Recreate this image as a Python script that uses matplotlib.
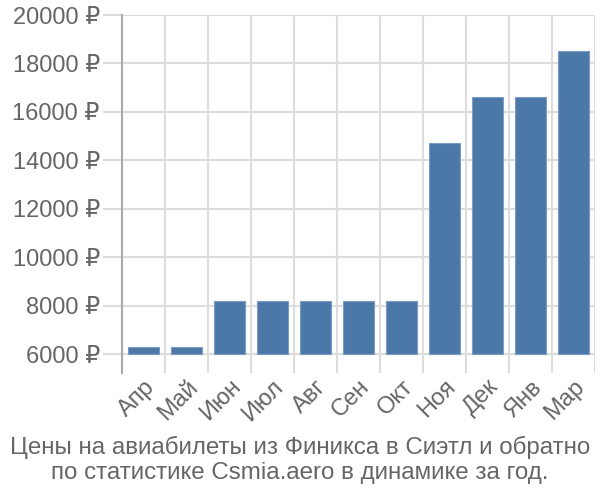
import matplotlib
matplotlib.use("Agg")
import matplotlib.pyplot as plt
import numpy as np

plt.rcParams['font.family'] = ['Liberation Sans', 'DejaVu Sans']

months = ["Апр", "Май", "Июн", "Июл", "Авг", "Сен", "Окт", "Ноя", "Дек", "Янв", "Мар"]
prices = [6300, 6300, 8200, 8200, 8200, 8200, 8200, 14700, 16600, 16600, 18500]
yticks = [6000, 8000, 10000, 12000, 14000, 16000, 18000, 20000]
ytick_labels = [f"{v} ₽" for v in yticks]
title_lines = ["Цены на авиабилеты из Финикса в Сиэтл и обратно",
               "по статистике Csmia.aero в динамике за год."]

base = 6000
fig = plt.figure(figsize=(6, 5), dpi=100)
ax = fig.add_axes([122/600, 1-373/500, 473/600, (373-15)/500])

x = np.arange(len(months))
ax.bar(x, [p - base for p in prices], bottom=base, width=0.72, color="#4c78a8",
       edgecolor="#7a9cc4", linewidth=0.8, zorder=3)

ax.set_xlim(-0.5, len(months) - 0.5)
ax.set_ylim(base - 19/48.43*2000, 20000)

fs = 17
ax.set_yticks(yticks)
ax.set_yticklabels(ytick_labels, fontsize=fs, color="#666666")
ax.set_xticks(x)
ax.set_xticklabels(months, fontsize=fs, color="#666666", rotation=45,
                   ha="right", va="top", rotation_mode="anchor")
ax.tick_params(axis='x', length=0, pad=2)
ax.tick_params(axis='y', length=14, color="#dddddd", width=1.5, pad=2)

ax.set_xticks(np.arange(-0.5, len(months), 1), minor=True)
ax.tick_params(axis='x', which='minor', length=0)
ax.grid(axis='x', which='minor', color="#dddddd", linewidth=1.5, zorder=0)
ax.grid(axis='y', which='major', color="#dddddd", linewidth=1.5, zorder=0)

for s in ["top", "right", "bottom"]:
    ax.spines[s].set_visible(False)
ax.spines["left"].set_color("#aaaaaa")
ax.spines["left"].set_linewidth(1.5)
ax.spines["left"].set_zorder(4)

fig.text(0.5, 1-447/500, title_lines[0], ha="center", va="center", fontsize=17.4,
         color="#666666")
fig.text(0.5, 1-473/500, title_lines[1], ha="center", va="center", fontsize=17.4,
         color="#666666")

fig.savefig("out.png", dpi=100)
